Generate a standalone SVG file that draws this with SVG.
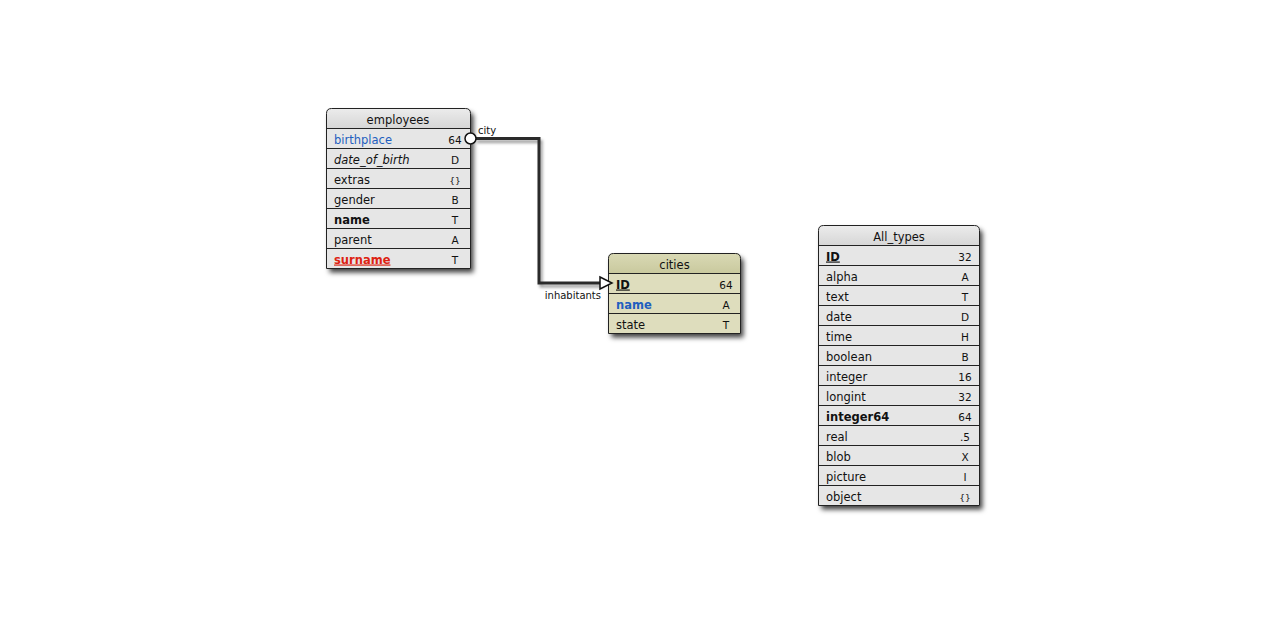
<svg xmlns="http://www.w3.org/2000/svg" width="1280" height="640" viewBox="0 0 1280 640">
<defs>
<filter id="sh" x="-20%" y="-20%" width="140%" height="140%">
<feDropShadow dx="3" dy="4" stdDeviation="2.5" flood-color="#000" flood-opacity="0.75"/>
</filter>
<filter id="lsh" x="-20%" y="-20%" width="140%" height="140%">
<feDropShadow dx="2" dy="3" stdDeviation="1.8" flood-color="#000" flood-opacity="0.4"/>
</filter>
<linearGradient id="gh" x1="0" y1="0" x2="0" y2="1">
<stop offset="0" stop-color="#ececec"/><stop offset="1" stop-color="#d6d6d6"/>
</linearGradient>
<linearGradient id="ch" x1="0" y1="0" x2="0" y2="1">
<stop offset="0" stop-color="#d9d9b4"/><stop offset="1" stop-color="#c9c99e"/>
</linearGradient>
</defs>
<style>
text{font-family:"DejaVu Sans","Liberation Sans",sans-serif;font-size:11.5px;fill:#111}
.h{text-anchor:middle}
.t{text-anchor:middle;font-size:10.5px}
.lbl{font-size:10px}
.sep{stroke:#222;stroke-width:1}
.frame{fill:none;stroke:#222;stroke-width:1}
.grey{fill:#e6e6e6}
.olive{fill:#deddbd}
.b{font-weight:bold}
.blue{fill:#1f5fbf}
.red{fill:#dd2211;font-weight:bold;text-decoration:underline}
.u{font-weight:bold;text-decoration:underline}
.i{font-style:italic}
</style>
<rect width="1280" height="640" fill="#fff"/>

<g id="employees">
<path d="M326.5,268.5 V113.5 Q326.5,108.5 331.5,108.5 H465.5 Q470.5,108.5 470.5,113.5 V268.5 Z" class="grey" filter="url(#sh)"/>
<path d="M326.5,128.5 V113.5 Q326.5,108.5 331.5,108.5 H465.5 Q470.5,108.5 470.5,113.5 V128.5 Z" fill="url(#gh)"/>
<path d="M326.5,268.5 V113.5 Q326.5,108.5 331.5,108.5 H465.5 Q470.5,108.5 470.5,113.5 V268.5 Z" class="frame"/>
<line class="sep" x1="326.5" y1="128.5" x2="470.5" y2="128.5"/>
<line class="sep" x1="326.5" y1="148.5" x2="470.5" y2="148.5"/>
<line class="sep" x1="326.5" y1="168.5" x2="470.5" y2="168.5"/>
<line class="sep" x1="326.5" y1="188.5" x2="470.5" y2="188.5"/>
<line class="sep" x1="326.5" y1="208.5" x2="470.5" y2="208.5"/>
<line class="sep" x1="326.5" y1="228.5" x2="470.5" y2="228.5"/>
<line class="sep" x1="326.5" y1="248.5" x2="470.5" y2="248.5"/>
<text class="h" x="398" y="123.5">employees</text>
<text class="blue" x="334" y="143.5">birthplace</text><text class="t" x="455" y="143.5">64</text>
<text class="i" x="334" y="163.5">date_of_birth</text><text class="t" x="455" y="163.5">D</text>
<text x="334" y="183.5">extras</text><text class="t" x="455" y="183.5" style="font-size:9px">{}</text>
<text x="334" y="203.5">gender</text><text class="t" x="455" y="203.5">B</text>
<text class="b" x="334" y="223.5">name</text><text class="t" x="455" y="223.5">T</text>
<text x="334" y="243.5">parent</text><text class="t" x="455" y="243.5">A</text>
<text class="red" x="334" y="263.5">surname</text><text class="t" x="455" y="263.5">T</text>
</g>

<g id="cities">
<path d="M608.5,333.5 V258.5 Q608.5,253.5 613.5,253.5 H735.5 Q740.5,253.5 740.5,258.5 V333.5 Z" class="olive" filter="url(#sh)"/>
<path d="M608.5,273.5 V258.5 Q608.5,253.5 613.5,253.5 H735.5 Q740.5,253.5 740.5,258.5 V273.5 Z" fill="url(#ch)"/>
<path d="M608.5,333.5 V258.5 Q608.5,253.5 613.5,253.5 H735.5 Q740.5,253.5 740.5,258.5 V333.5 Z" class="frame"/>
<line class="sep" x1="608.5" y1="273.5" x2="740.5" y2="273.5"/>
<line class="sep" x1="608.5" y1="293.5" x2="740.5" y2="293.5"/>
<line class="sep" x1="608.5" y1="313.5" x2="740.5" y2="313.5"/>
<text class="h" x="674.5" y="268.5">cities</text>
<text class="u" x="616" y="288.5">ID</text><text class="t" x="726" y="288.5">64</text>
<text class="b blue" x="616" y="308.5">name</text><text class="t" x="726" y="308.5">A</text>
<text x="616" y="328.5">state</text><text class="t" x="726" y="328.5">T</text>
</g>

<g id="All_types">
<path d="M818.5,505.5 V230.5 Q818.5,225.5 823.5,225.5 H974.5 Q979.5,225.5 979.5,230.5 V505.5 Z" class="grey" filter="url(#sh)"/>
<path d="M818.5,245.5 V230.5 Q818.5,225.5 823.5,225.5 H974.5 Q979.5,225.5 979.5,230.5 V245.5 Z" fill="url(#gh)"/>
<path d="M818.5,505.5 V230.5 Q818.5,225.5 823.5,225.5 H974.5 Q979.5,225.5 979.5,230.5 V505.5 Z" class="frame"/>
<line class="sep" x1="818.5" y1="245.5" x2="979.5" y2="245.5"/>
<line class="sep" x1="818.5" y1="265.5" x2="979.5" y2="265.5"/>
<line class="sep" x1="818.5" y1="285.5" x2="979.5" y2="285.5"/>
<line class="sep" x1="818.5" y1="305.5" x2="979.5" y2="305.5"/>
<line class="sep" x1="818.5" y1="325.5" x2="979.5" y2="325.5"/>
<line class="sep" x1="818.5" y1="345.5" x2="979.5" y2="345.5"/>
<line class="sep" x1="818.5" y1="365.5" x2="979.5" y2="365.5"/>
<line class="sep" x1="818.5" y1="385.5" x2="979.5" y2="385.5"/>
<line class="sep" x1="818.5" y1="405.5" x2="979.5" y2="405.5"/>
<line class="sep" x1="818.5" y1="425.5" x2="979.5" y2="425.5"/>
<line class="sep" x1="818.5" y1="445.5" x2="979.5" y2="445.5"/>
<line class="sep" x1="818.5" y1="465.5" x2="979.5" y2="465.5"/>
<line class="sep" x1="818.5" y1="485.5" x2="979.5" y2="485.5"/>
<text class="h" x="899" y="240.5">All_types</text>
<text class="u" x="826" y="260.5">ID</text><text class="t" x="965" y="260.5">32</text>
<text x="826" y="280.5">alpha</text><text class="t" x="965" y="280.5">A</text>
<text x="826" y="300.5">text</text><text class="t" x="965" y="300.5">T</text>
<text x="826" y="320.5">date</text><text class="t" x="965" y="320.5">D</text>
<text x="826" y="340.5">time</text><text class="t" x="965" y="340.5">H</text>
<text x="826" y="360.5">boolean</text><text class="t" x="965" y="360.5">B</text>
<text x="826" y="380.5">integer</text><text class="t" x="965" y="380.5">16</text>
<text x="826" y="400.5">longint</text><text class="t" x="965" y="400.5">32</text>
<text class="b" x="826" y="420.5">integer64</text><text class="t" x="965" y="420.5">64</text>
<text x="826" y="440.5">real</text><text class="t" x="965" y="440.5">.5</text>
<text x="826" y="460.5">blob</text><text class="t" x="965" y="460.5">X</text>
<text x="826" y="480.5">picture</text><text class="t" x="965" y="480.5">I</text>
<text x="826" y="500.5">object</text><text class="t" x="965" y="500.5" style="font-size:9px">{}</text>
</g>

<g id="connectors">
<path d="M475,138.5 H539 V283 H601" fill="none" stroke="#2a2a2a" stroke-width="3" filter="url(#lsh)"/>
<circle cx="470.5" cy="138.5" r="5.5" fill="#fff" stroke="#111" stroke-width="1.5"/>
<polygon points="600,277 612,283 600,289" fill="#fff" stroke="#111" stroke-width="1.5"/>
<text class="lbl" x="478" y="134">city</text>
<text class="lbl" x="601" y="299" text-anchor="end">inhabitants</text>
</g>
</svg>
